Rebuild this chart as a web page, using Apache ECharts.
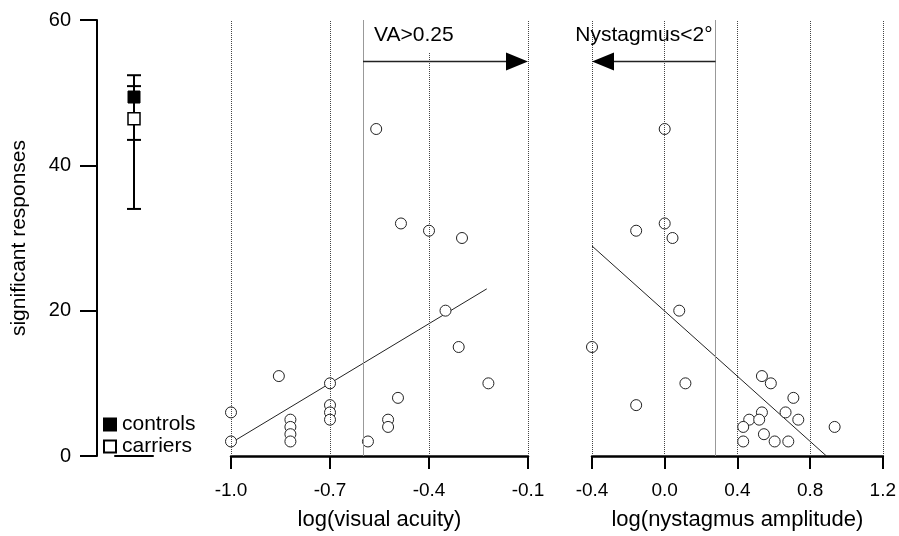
<!DOCTYPE html>
<html>
<head>
<meta charset="utf-8">
<script src="https://cdn.jsdelivr.net/npm/echarts@6/dist/echarts.min.js"></script>
<style>
html, body { margin: 0; padding: 0; background: #fff; }
#main { width: 899px; height: 536px; }
</style>
</head>
<body>
<div id="main"></div>
<script>
// left panel: group means with error bars
var groupCat = ['all'];
var groups = ['controls', 'carriers'];
var groupMeans = [49.4, 46.4];
var groupLow = [43.5, 34.0];
var groupHigh = [52.4, 50.9];

// middle panel: log(visual acuity)
var vaPoints = [
    [-1.0, 6], [-1.0, 2], [-0.855, 11], [-0.82, 5], [-0.82, 4], [-0.82, 3], [-0.82, 2],
    [-0.7, 10], [-0.7, 7], [-0.7, 6], [-0.7, 5], [-0.585, 2], [-0.524, 5], [-0.524, 4],
    [-0.494, 8], [-0.56, 45], [-0.485, 32], [-0.4, 31], [-0.3, 30], [-0.35, 20],
    [-0.31, 15], [-0.22, 10]
];
var vaFit = [[-1.0, 1.8], [-0.225, 23]];
var vaTicks = [-1.0, -0.7, -0.4, -0.1];
var vaCut = -0.6;
var vaArrow = [[-0.6, -0.1, 54.3]];

// right panel: log(nystagmus amplitude)
var nyPoints = [
    [0.0, 45], [0.0, 32], [-0.157, 31], [0.043, 30], [0.08, 20], [-0.4, 15], [0.114, 10],
    [-0.157, 7], [0.535, 11], [0.584, 10], [0.708, 8], [0.535, 6], [0.665, 6], [0.735, 5],
    [0.465, 5], [0.52, 5], [0.432, 4], [0.935, 4], [0.546, 3], [0.432, 2], [0.605, 2], [0.68, 2]
];
var nyFit = [[-0.4, 28.9], [0.89, 0]];
var nyTicks = [-0.4, 0.0, 0.4, 0.8, 1.2];
var nyCut = 0.28;
var nyArrow = [[0.28, -0.4, 54.3]];

var FONT = '"Liberation Sans", Arial, sans-serif';

function errorBar(params, api) {
    var top = api.coord([api.value(0), api.value(2)]);
    var bot = api.coord([api.value(0), api.value(1)]);
    var w = 7;
    var st = { stroke: '#000', lineWidth: 2 };
    return {
        type: 'group',
        children: [
            { type: 'line', shape: { x1: top[0], y1: top[1], x2: bot[0], y2: bot[1] }, style: st },
            { type: 'line', shape: { x1: top[0] - w, y1: top[1], x2: top[0] + w, y2: top[1] }, style: st },
            { type: 'line', shape: { x1: bot[0] - w, y1: bot[1], x2: bot[0] + w, y2: bot[1] }, style: st }
        ]
    };
}

function arrow(text, left) {
    return function (params, api) {
        var a = api.coord([api.value(0), api.value(2)]);
        var b = api.coord([api.value(1), api.value(2)]);
        var d = b[0] > a[0] ? 1 : -1;
        var len = 22, half = 9;
        var base = b[0] - d * len;
        return {
            type: 'group',
            children: [
                { type: 'line', shape: { x1: a[0], y1: a[1], x2: base, y2: a[1] },
                  style: { stroke: '#222', lineWidth: 1.5 } },
                { type: 'polygon', shape: { points: [[b[0], b[1]], [base, b[1] - half], [base, b[1] + half]] },
                  style: { fill: '#000' } },
                { type: 'text', x: left ? a[0] + 9 : a[0] - 3, y: a[1] - 26,
                  style: { text: text, fontSize: 21, fontFamily: FONT, fill: '#000',
                           align: left ? 'left' : 'right', verticalAlign: 'middle',
                           backgroundColor: left ? '#fff' : 'transparent', padding: left ? [6, 2, 6, 2] : 0 } }
            ]
        };
    };
}

function refLines(ticks, cut) {
    return {
        silent: true,
        symbol: 'none',
        animation: false,
        label: { show: false },
        lineStyle: { color: '#444', type: 'dotted', width: 1 },
        data: ticks.map(function (v) { return { xAxis: v }; })
            .concat([{ xAxis: cut, lineStyle: { type: 'solid', color: '#999', width: 1 } }])
    };
}

function xAxisFor(grid, min, max, ticks, name) {
    return {
        type: 'value', gridIndex: grid, min: min, max: max,
        name: name, nameLocation: 'middle', nameGap: 53,
        nameTextStyle: { fontSize: 22, fontFamily: FONT, color: '#000' },
        axisLine: { lineStyle: { color: '#000', width: 2.5 } },
        axisTick: { customValues: ticks, length: 13, lineStyle: { color: '#000', width: 2 } },
        axisLabel: { customValues: ticks, margin: 25, fontSize: 19, fontFamily: FONT, color: '#000',
                     formatter: function (v) { return v.toFixed(1); } },
        splitLine: { show: false }
    };
}

var dom = document.getElementById('main');
var myChart = echarts.init(dom);
var option = {
    animation: false,
    backgroundColor: '#fff',
    grid: [
        { left: 115, top: 20, width: 38, height: 436 },
        { left: 231, top: 20, width: 297, height: 436 },
        { left: 592, top: 20, width: 296, height: 436 }
    ],
    legend: {
        data: groups,
        orient: 'vertical',
        left: 98, top: 409,
        itemWidth: 12, itemHeight: 12, itemGap: 1,
        icon: 'rect',
        selectedMode: false,
        textStyle: { fontSize: 21, fontFamily: FONT, color: '#000', padding: [0, 0, 0, 1] }
    },
    xAxis: [
        {
            type: 'category', gridIndex: 0, data: groupCat,
            axisLine: { lineStyle: { color: '#000', width: 2 } },
            axisTick: { alignWithLabel: true, length: 3, lineStyle: { color: '#000' } },
            axisLabel: { show: false }
        },
        xAxisFor(1, -1.0, -0.1, vaTicks, 'log(visual acuity)'),
        xAxisFor(2, -0.4, 1.2, nyTicks, 'log(nystagmus amplitude)')
    ],
    yAxis: [
        {
            type: 'value', gridIndex: 0, min: 0, max: 60, interval: 20, offset: 18,
            name: 'significant responses', nameLocation: 'middle', nameRotate: 90, nameGap: 67,
            nameTextStyle: { fontSize: 21, fontFamily: FONT, color: '#000' },
            axisLine: { show: true, lineStyle: { color: '#000', width: 2 } },
            axisTick: { show: true, length: 17, lineStyle: { color: '#000', width: 2 } },
            axisLabel: { margin: 26, fontSize: 20, fontFamily: FONT, color: '#000' },
            splitLine: { show: false }
        },
        { type: 'value', gridIndex: 1, min: 0, max: 60, show: false },
        { type: 'value', gridIndex: 2, min: 0, max: 60, show: false }
    ],
    series: [
        {
            type: 'custom', name: 'range', xAxisIndex: 0, yAxisIndex: 0, z: 2,
            renderItem: errorBar,
            data: groups.map(function (g, i) { return [0, groupLow[i], groupHigh[i]]; })
        },
        {
            type: 'scatter', name: 'controls', xAxisIndex: 0, yAxisIndex: 0, z: 5,
            symbol: 'rect', symbolSize: 12,
            itemStyle: { color: '#000', borderColor: '#000', borderWidth: 1, opacity: 1 },
            data: [[0, groupMeans[0]]]
        },
        {
            type: 'scatter', name: 'carriers', xAxisIndex: 0, yAxisIndex: 0, z: 5,
            symbol: 'rect', symbolSize: 12,
            itemStyle: { color: '#fff', borderColor: '#000', borderWidth: 1.5, opacity: 1 },
            data: [[0, groupMeans[1]]]
        },
        {
            type: 'line', xAxisIndex: 1, yAxisIndex: 1, data: vaFit, showSymbol: false, z: 3,
            lineStyle: { color: '#222', width: 1 }
        },
        {
            type: 'scatter', xAxisIndex: 1, yAxisIndex: 1, data: vaPoints, z: 4,
            symbol: 'circle', symbolSize: 11,
            itemStyle: { color: '#fff', borderColor: '#222', borderWidth: 1, opacity: 1 },
            markLine: refLines(vaTicks, vaCut)
        },
        {
            type: 'custom', xAxisIndex: 1, yAxisIndex: 1, z: 6,
            renderItem: arrow('VA>0.25', true), data: vaArrow
        },
        {
            type: 'line', xAxisIndex: 2, yAxisIndex: 2, data: nyFit, showSymbol: false, z: 3,
            lineStyle: { color: '#222', width: 1 }
        },
        {
            type: 'scatter', xAxisIndex: 2, yAxisIndex: 2, data: nyPoints, z: 4,
            symbol: 'circle', symbolSize: 11,
            itemStyle: { color: '#fff', borderColor: '#222', borderWidth: 1, opacity: 1 },
            markLine: refLines(nyTicks, nyCut)
        },
        {
            type: 'custom', xAxisIndex: 2, yAxisIndex: 2, z: 6,
            renderItem: arrow('Nystagmus<2°', false), data: nyArrow
        }
    ]
};

if (option && typeof option === 'object') {
    myChart.setOption(option, true);
}
</script>
</body>
</html>
